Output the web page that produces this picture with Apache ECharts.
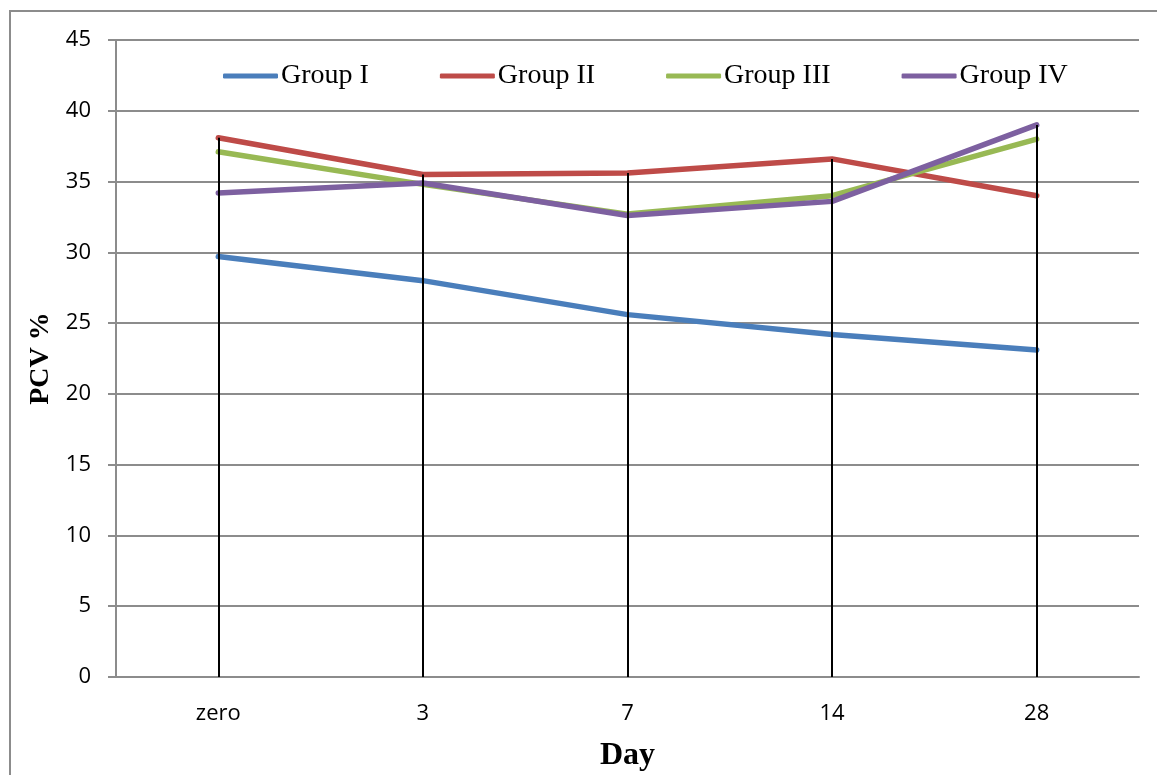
<!DOCTYPE html>
<html>
<head>
<meta charset="utf-8">
<script src="https://cdn.jsdelivr.net/npm/echarts@6/dist/echarts.min.js"></script>
<style>
  html, body { margin: 0; padding: 0; background: #ffffff; }
  #chart { width: 1157px; height: 775px; }
</style>
</head>
<body>
<div id="chart"></div>
<script>
// Days of sampling
const days = ['zero', '3', '7', '14', '28'];

// PCV % per group
const groupI   = [29.7, 28.0, 25.6, 24.2, 23.1];
const groupII  = [38.1, 35.5, 35.6, 36.6, 34.0];
const groupIII = [37.1, 34.8, 32.7, 34.0, 38.0];
const groupIV  = [34.2, 34.9, 32.6, 33.6, 39.0];

const groupNames = ['Group I', 'Group II', 'Group III', 'Group IV'];
const groupData = [groupI, groupII, groupIII, groupIV];
const groupColors = ['#4a7ebb', '#be4b48', '#98b954', '#7d60a0'];

// Drop lines from the highest value of each day down to the axis
const dropLines = days.map((d, i) => {
  const top = Math.max(...groupData.map(g => g[i]));
  return [{ coord: [d, top] }, { coord: [d, 0] }];
});

const series = groupNames.map((name, k) => ({
  name: name,
  type: 'line',
  data: groupData[k],
  symbol: 'none',
  lineStyle: { width: 5.5, color: groupColors[k], cap: 'round', join: 'round' },
  itemStyle: { color: groupColors[k] },
  z: 3
}));

series.push({
  name: 'drop',
  type: 'line',
  data: [],
  symbol: 'none',
  z: 5,
  markLine: {
    silent: true,
    symbol: ['none', 'none'],
    label: { show: false },
    lineStyle: { color: '#000000', width: 2, type: 'solid' },
    emphasis: { disabled: true },
    data: dropLines
  }
});

const chart = echarts.init(document.getElementById('chart'));
chart.setOption({
  animation: false,
  backgroundColor: '#ffffff',
  graphic: [{
    type: 'rect',
    shape: { x: 10, y: 11, width: 1200, height: 800 },
    style: { fill: 'none', stroke: '#8c8c8c', lineWidth: 2 },
    silent: true,
    z: -1
  }],
  legend: {
    data: groupNames,
    left: 218,
    top: 57,
    itemWidth: 55,
    itemHeight: 5,
    itemGap: 71,
    icon: 'roundRect',
    textStyle: { fontFamily: 'Liberation Serif', fontSize: 28, color: '#000000', padding: [0, 0, 0, -2] }
  },
  grid: { left: 116, right: 18, top: 40, bottom: 98, containLabel: false, outerBoundsMode: 'none' },
  xAxis: {
    type: 'category',
    data: days,
    boundaryGap: true,
    name: 'Day',
    nameLocation: 'middle',
    nameGap: 63,
    nameTextStyle: { fontFamily: 'Liberation Serif', fontSize: 32, fontWeight: 'bold', color: '#000000' },
    axisLine: { lineStyle: { color: '#8c8c8c', width: 2 } },
    axisTick: { show: false },
    axisLabel: { fontFamily: 'Open Sans', fontSize: 22, color: '#000000', margin: 26 }
  },
  yAxis: {
    type: 'value',
    min: 0,
    max: 45,
    interval: 5,
    name: 'PCV %',
    nameLocation: 'middle',
    nameGap: 54,
    nameRotate: 90,
    nameTextStyle: { fontFamily: 'Liberation Serif', fontSize: 28, fontWeight: 'bold', color: '#000000' },
    axisLine: { show: true, lineStyle: { color: '#8c8c8c', width: 2 } },
    axisTick: { show: true, length: 8, lineStyle: { color: '#8c8c8c', width: 2 } },
    axisLabel: { fontFamily: 'Open Sans', fontSize: 22, color: '#000000', margin: 25 },
    splitLine: { show: true, lineStyle: { color: '#8c8c8c', width: 2 } }
  },
  series: series
});
</script>
</body>
</html>
